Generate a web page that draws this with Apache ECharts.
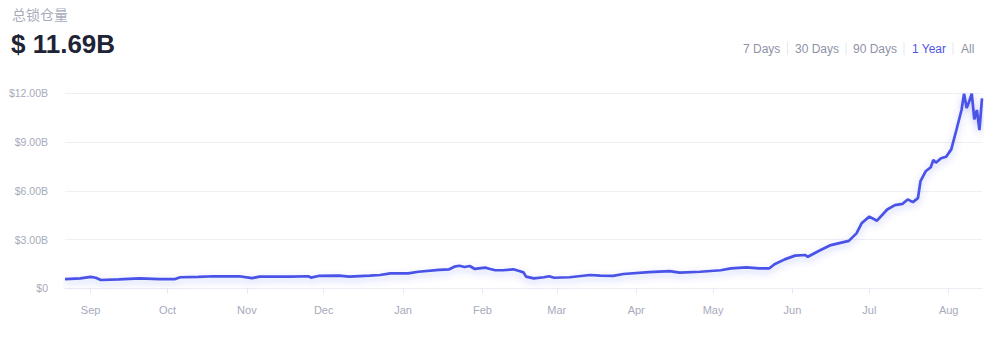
<!DOCTYPE html>
<html>
<head>
<meta charset="utf-8">
<style>
  html, body { margin: 0; padding: 0; background: #ffffff; }
  #chart { width: 1000px; height: 337px; }
</style>
<script src="https://cdn.jsdelivr.net/npm/echarts@6/dist/echarts.min.js"></script>
</head>
<body>
<div id="chart"></div>
<script>
// ---- data (values in billions USD) ----
const titleLabel = '总锁仓量';
const currentValue = '$ 11.69B';
const rangeButtons = ['7 Days', '30 Days', '90 Days', '1 Year', 'All'];
const activeButton = '1 Year';
const monthNames = ['Jan','Feb','Mar','Apr','May','Jun','Jul','Aug','Sep','Oct','Nov','Dec'];
const yTicks = [0, 3, 6, 9, 12];

const dates = [
  '2019-08-22','2019-08-28','2019-09-01','2019-09-03','2019-09-05','2019-09-12','2019-09-20','2019-09-28',
  '2019-10-04','2019-10-06','2019-10-13','2019-10-19','2019-10-29','2019-11-03','2019-11-06','2019-11-18',
  '2019-11-25','2019-11-26','2019-11-29','2019-12-07','2019-12-11','2019-12-19','2019-12-23','2019-12-27',
  '2020-01-03','2020-01-07','2020-01-15','2020-01-19','2020-01-21','2020-01-23','2020-01-25','2020-01-27',
  '2020-01-29','2020-02-02','2020-02-04','2020-02-06','2020-02-09','2020-02-13','2020-02-15','2020-02-17',
  '2020-02-18','2020-02-21','2020-02-25','2020-02-27','2020-02-29','2020-03-06','2020-03-14','2020-03-18',
  '2020-03-23','2020-03-27','2020-04-06','2020-04-14','2020-04-18','2020-04-26','2020-05-04','2020-05-08',
  '2020-05-14','2020-05-19','2020-05-23','2020-05-25','2020-05-29','2020-06-02','2020-06-06','2020-06-07',
  '2020-06-12','2020-06-16','2020-06-23','2020-06-26','2020-06-28','2020-07-01','2020-07-04','2020-07-08',
  '2020-07-11','2020-07-14','2020-07-16','2020-07-18','2020-07-20','2020-07-21','2020-07-23','2020-07-25',
  '2020-07-26','2020-07-27','2020-07-29','2020-07-31','2020-08-02','2020-08-04','2020-08-06','2020-08-07',
  '2020-08-08','2020-08-09','2020-08-10','2020-08-11','2020-08-12','2020-08-13','2020-08-14'
];
const tvl = [
  0.57, 0.61, 0.70, 0.65, 0.51, 0.55, 0.61, 0.57,
  0.57, 0.68, 0.70, 0.74, 0.74, 0.63, 0.72, 0.72,
  0.74, 0.66, 0.76, 0.78, 0.72, 0.78, 0.82, 0.92,
  0.92, 1.02, 1.13, 1.17, 1.33, 1.39, 1.31, 1.37,
  1.19, 1.27, 1.19, 1.11, 1.11, 1.17, 1.08, 0.98,
  0.72, 0.61, 0.68, 0.74, 0.65, 0.68, 0.82, 0.78,
  0.76, 0.88, 1.00, 1.06, 0.96, 1.02, 1.11, 1.23,
  1.29, 1.23, 1.23, 1.48, 1.78, 2.01, 2.05, 1.94,
  2.36, 2.66, 2.92, 3.38, 4.00, 4.41, 4.16, 4.85,
  5.12, 5.20, 5.47, 5.30, 5.55, 6.60, 7.20, 7.45,
  7.90, 7.73, 8.00, 8.10, 8.55, 9.74, 10.97, 11.98,
  11.10, 11.50, 11.98, 10.40, 10.97, 9.74, 11.69
];
const axisStart = '2019-08-22';
const axisEnd = '2020-08-14';

// ---- chart ----
const chart = echarts.init(document.getElementById('chart'), null, { renderer: 'svg' });
const font = '"Liberation Sans", Arial, Helvetica, sans-serif';

const buttonX = [743, 795, 853, 912, 961];
const sepX = [787.5, 846, 904, 953];
const graphics = [
  { type: 'text', left: 12, top: 7, style: { text: titleLabel, fill: '#a7abbb', font: '14px "Noto Sans CJK SC", sans-serif' } },
  { type: 'text', left: 11, top: 31, style: { text: currentValue, fill: '#1f2336', font: '600 26px ' + font } }
];
rangeButtons.forEach((b, i) => {
  graphics.push({ type: 'text', left: buttonX[i], top: 42.5, style: { text: b, fill: b === activeButton ? '#4e55e6' : '#8e92a7', font: '12px ' + font } });
});
sepX.forEach(x => {
  graphics.push({ type: 'line', shape: { x1: x, y1: 42, x2: x, y2: 55 }, style: { stroke: '#e6e8ee', lineWidth: 1 } });
});

chart.setOption({
  animation: false,
  backgroundColor: '#ffffff',
  graphic: graphics,
  grid: { left: 65, right: 18, top: 93.3, bottom: 48.7, containLabel: false },
  xAxis: {
    type: 'time',
    min: axisStart,
    max: axisEnd,
    minInterval: 28 * 86400000,
    maxInterval: 31 * 86400000,
    axisLine: { show: true, lineStyle: { color: '#eceef4', width: 1 } },
    axisTick: { show: true, length: 5, lineStyle: { color: '#e6e8ef' } },
    axisLabel: {
      color: '#a6aabb', fontSize: 11, fontFamily: font, margin: 16,
      formatter: v => monthNames[new Date(v).getMonth()]
    },
    splitLine: { show: false }
  },
  yAxis: {
    type: 'value',
    min: yTicks[0],
    max: yTicks[yTicks.length - 1],
    interval: 3,
    axisLine: { show: false },
    axisTick: { show: false },
    axisLabel: {
      color: '#a6aabb', fontSize: 10.5, fontFamily: font, margin: 17,
      formatter: v => v === 0 ? '$0' : '$' + v.toFixed(2) + 'B'
    },
    splitLine: { show: true, lineStyle: { color: '#eff0f5', width: 1 } }
  },
  series: [{
    type: 'line',
    data: dates.map((d, i) => [d, tvl[i]]),
    showSymbol: false,
    smooth: false,
    lineStyle: {
      color: '#4a52e8', width: 2.7,
      shadowColor: 'rgba(74, 82, 232, 0.32)', shadowBlur: 7, shadowOffsetY: 3
    }
  }]
});
</script>
</body>
</html>
